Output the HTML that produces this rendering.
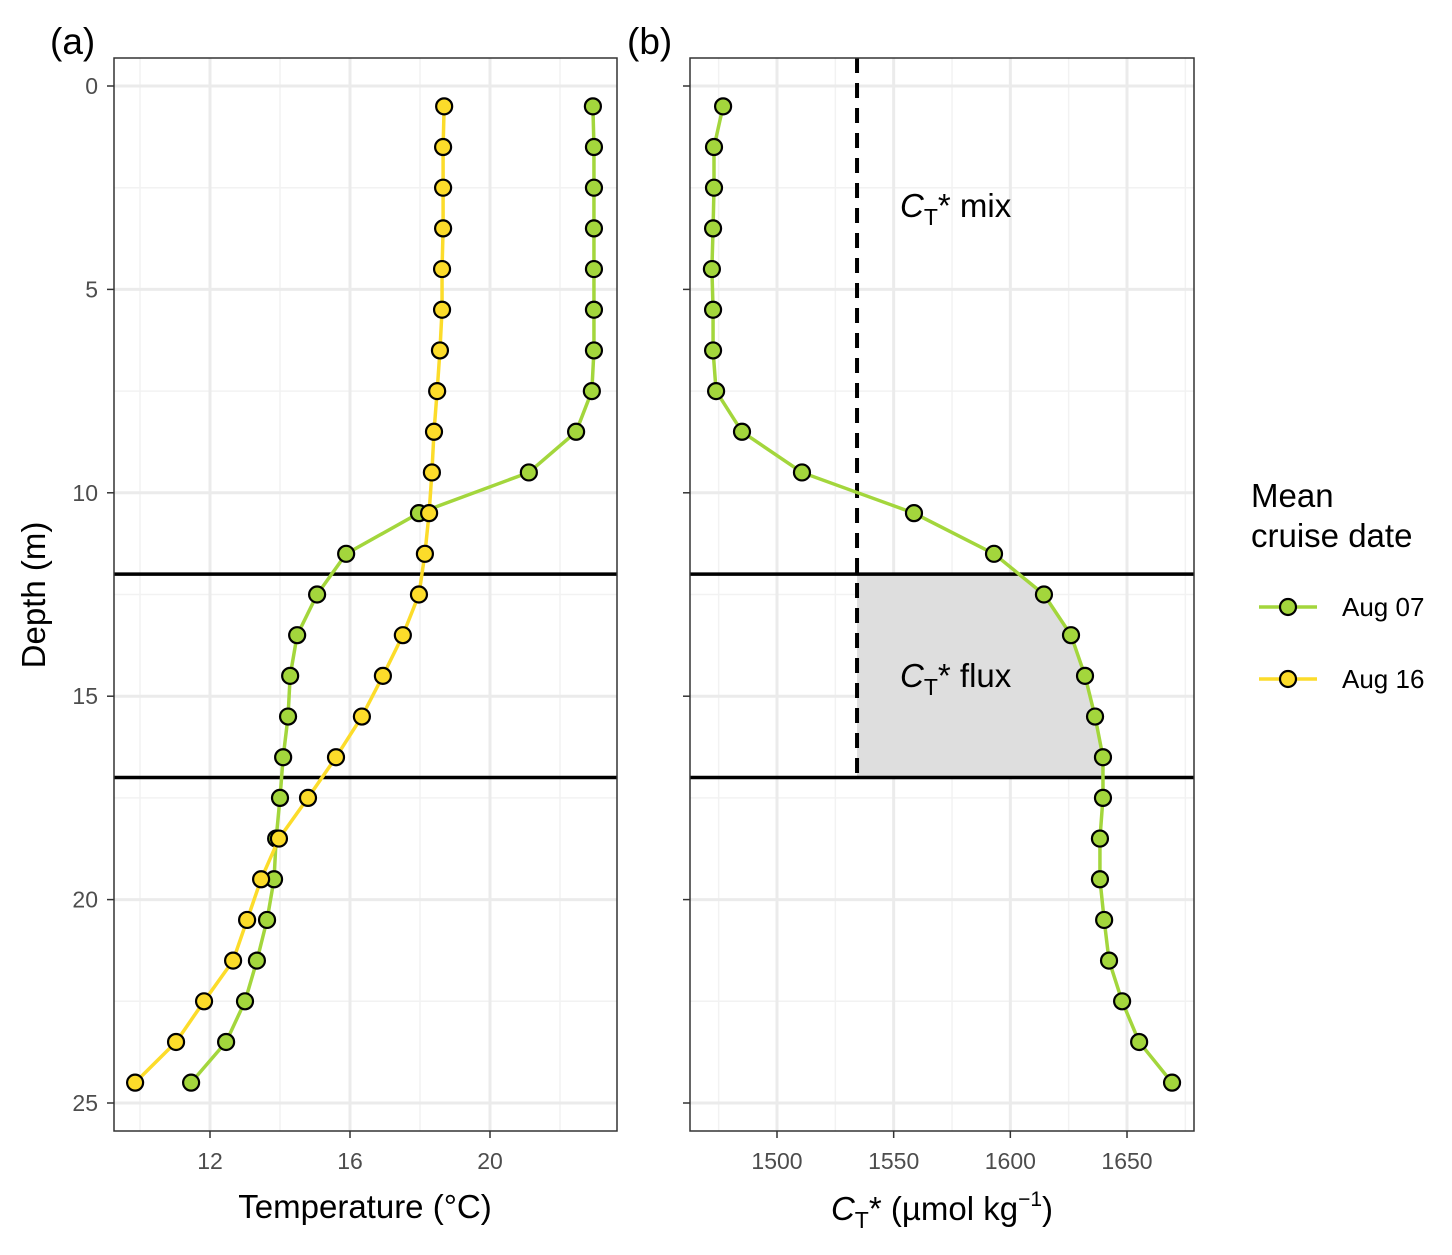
<!DOCTYPE html>
<html><head><meta charset="utf-8"><style>
body{margin:0;background:#fff}
svg text{font-family:"Liberation Sans",Arial,sans-serif}
</style></head><body>
<svg id="chart" width="1452" height="1250" viewBox="0 0 1452 1250" xmlns="http://www.w3.org/2000/svg">
<g id="pa"></g>
<g id="pb"></g>
<g id="legend">
<text x="1251" y="507" font-size="33">Mean</text>
<text x="1251" y="547" font-size="33">cruise date</text>
<g>
<line x1="1259" y1="607" x2="1317" y2="607" stroke="#a3d63c" stroke-width="3.5"/>
<circle cx="1288" cy="607" r="8" fill="#a3d63c" stroke="#000" stroke-width="2.2"/>
<text x="1342" y="616" font-size="26">Aug 07</text></g>
<g>
<line x1="1259" y1="679" x2="1317" y2="679" stroke="#fcdc2a" stroke-width="3.5"/>
<circle cx="1288" cy="679" r="8" fill="#fcdc2a" stroke="#000" stroke-width="2.2"/>
<text x="1342" y="688" font-size="26">Aug 16</text></g>
</g>
</svg>
<script>
const depths=[0.5,1.5,2.5,3.5,4.5,5.5,6.5,7.5,8.5,9.5,10.5,11.5,12.5,13.5,14.5,15.5,16.5,17.5,18.5,19.5,20.5,21.5,22.5,23.5,24.5];
const tempAug07=[22.94,22.97,22.97,22.97,22.97,22.97,22.97,22.91,22.46,21.11,17.97,15.89,15.06,14.49,14.29,14.23,14.09,14.0,13.89,13.83,13.63,13.34,13.0,12.46,11.46];
const tempAug16=[18.69,18.66,18.66,18.66,18.63,18.63,18.57,18.49,18.4,18.34,18.26,18.14,17.97,17.51,16.94,16.34,15.6,14.8,13.97,13.46,13.06,12.66,11.83,11.03,9.86];
const ctAug07=[1476.9,1473,1473,1472.6,1472.1,1472.6,1472.6,1473.9,1485,1510.7,1558.7,1593,1614.4,1626,1632,1636.3,1639.7,1639.7,1638.4,1638.4,1640.2,1642.3,1647.9,1655.2,1669.3];
const ctMix=1534.3;
const layerTop=12, layerBottom=17;
const depthTicks=[0,5,10,15,20,25];
const tempTicks=[12,16,20];
const ctTicks=[1500,1550,1600,1650];

const NS="http://www.w3.org/2000/svg";
const yS=d=>86+d*40.68;
const xA=t=>210+(t-12)*35;
const xB=c=>777+(c-1500)*(116.67/50);
function el(p,tag,a){const e=document.createElementNS(NS,tag);for(const k in a)e.setAttribute(k,a[k]);p.appendChild(e);return e;}
const GREEN="#a3d63c",YEL="#fcdc2a";

function frame(g,x0,x1,xs,xticks,minorX){
  const y0=58,y1=1131;
  for(const v of minorX){const r=el(g,'line',{x1:xs(v),x2:xs(v),y1:y0,y2:y1,stroke:'#f2f2f2','stroke-width':1.5});}
  for(let d=2.5;d<25;d+=5){const r=el(g,'line',{x1:x0,x2:x1,y1:yS(d),y2:yS(d),stroke:'#f2f2f2','stroke-width':1.5});}
  for(const v of xticks){const r=el(g,'line',{x1:xs(v),x2:xs(v),y1:y0,y2:y1,stroke:'#ebebeb',"stroke-width":3});
    const t=el(g,'line',{x1:xs(v),x2:xs(v),y1:y1,y2:y1+7,stroke:'#333','stroke-width':1.5});
    const l=el(g,'text',{x:xs(v),y:y1+38,'font-size':23,fill:'#4d4d4d','text-anchor':'middle'});l.textContent=v;}
  for(const d of depthTicks){const r=el(g,'line',{x1:x0,x2:x1,y1:yS(d),y2:yS(d),stroke:'#ebebeb','stroke-width':3});
    const t=el(g,'line',{x1:x0-7,x2:x0,y1:yS(d),y2:yS(d),stroke:'#333','stroke-width':1.5});}
}
function series(g,xs,vals,col,name){
  const pts=vals.map((v,i)=>xs(v)+','+yS(depths[i])).join(' ');
  const pl=el(g,'polyline',{points:pts,fill:'none',stroke:col,'stroke-width':3.5});
  
  vals.forEach((v,i)=>{const c=el(g,'circle',{cx:xs(v),cy:yS(depths[i]),r:8,fill:col,stroke:'#000','stroke-width':2.2});
    });
}
const pa=document.getElementById('pa');
frame(pa,114,617,xA,tempTicks,[10,14,18,22]);
for(const d of depthTicks){const l=el(pa,'text',{x:98,y:yS(d)+8,'font-size':23,fill:'#4d4d4d','text-anchor':'end'});l.textContent=d;}
for(const d of [layerTop,layerBottom]){const h=el(pa,'line',{x1:114,x2:617,y1:yS(d),y2:yS(d),stroke:'#000','stroke-width':3.5});}
series(pa,xA,tempAug07,GREEN,'aug07-temp');
series(pa,xA,tempAug16,YEL,'aug16-temp');
let r=el(pa,'rect',{x:114,y:58,width:503,height:1073,fill:'none',stroke:'#333','stroke-width':1.5});
let t=el(pa,'text',{x:50,y:54,'font-size':37});t.textContent='(a)';
t=el(pa,'text',{x:365,y:1218,'font-size':33,'text-anchor':'middle'});t.textContent='Temperature (°C)';
t=el(pa,'text',{x:0,y:0,'font-size':33,'text-anchor':'middle',transform:'translate(45,595) rotate(-90)'});t.textContent='Depth (m)';

const pb=document.getElementById('pb');
frame(pb,690,1194,xB,ctTicks,[1475,1525,1575,1625,1675]);
function interp(d){for(let i=0;i<depths.length-1;i++){if(d>=depths[i]&&d<=depths[i+1]){const f=(d-depths[i])/(depths[i+1]-depths[i]);return ctAug07[i]+f*(ctAug07[i+1]-ctAug07[i]);}}return ctAug07[0];}
let sp=[[xB(ctMix),yS(layerTop)],[xB(interp(layerTop)),yS(layerTop)]];
depths.forEach((d,i)=>{if(d>layerTop&&d<layerBottom)sp.push([xB(ctAug07[i]),yS(d)]);});
sp.push([xB(interp(layerBottom)),yS(layerBottom)],[xB(ctMix),yS(layerBottom)]);
const sh=el(pb,'polygon',{points:sp.map(p=>p.join(',')).join(' '),fill:'#dedede'});

for(const d of [layerTop,layerBottom]){const h=el(pb,'line',{x1:690,x2:1194,y1:yS(d),y2:yS(d),stroke:'#000','stroke-width':3.5});}
const dl=el(pb,'line',{x1:xB(ctMix),x2:xB(ctMix),y1:58,y2:yS(layerBottom),stroke:'#000','stroke-width':4,'stroke-dasharray':'15,10'});

series(pb,xB,ctAug07,GREEN,'aug07-ct');
r=el(pb,'rect',{x:690,y:58,width:504,height:1073,fill:'none',stroke:'#333','stroke-width':1.5});
t=el(pb,'text',{x:627,y:54,'font-size':37});t.textContent='(b)';
t=el(pb,'text',{x:900,y:217,'font-size':33});t.innerHTML='<tspan font-style="italic">C</tspan><tspan font-size="23" dy="8">T</tspan><tspan dy="-8">* mix</tspan>';
t=el(pb,'text',{x:900,y:687,'font-size':33});t.innerHTML='<tspan font-style="italic">C</tspan><tspan font-size="23" dy="8">T</tspan><tspan dy="-8">* flux</tspan>';
t=el(pb,'text',{x:942,y:1220,'font-size':33,'text-anchor':'middle'});t.innerHTML='<tspan font-style="italic">C</tspan><tspan font-size="23" dy="8">T</tspan><tspan dy="-8">* (µmol kg</tspan><tspan font-size="21" dy="-14">−1</tspan><tspan dy="14">)</tspan>';
</script>
</body></html>
